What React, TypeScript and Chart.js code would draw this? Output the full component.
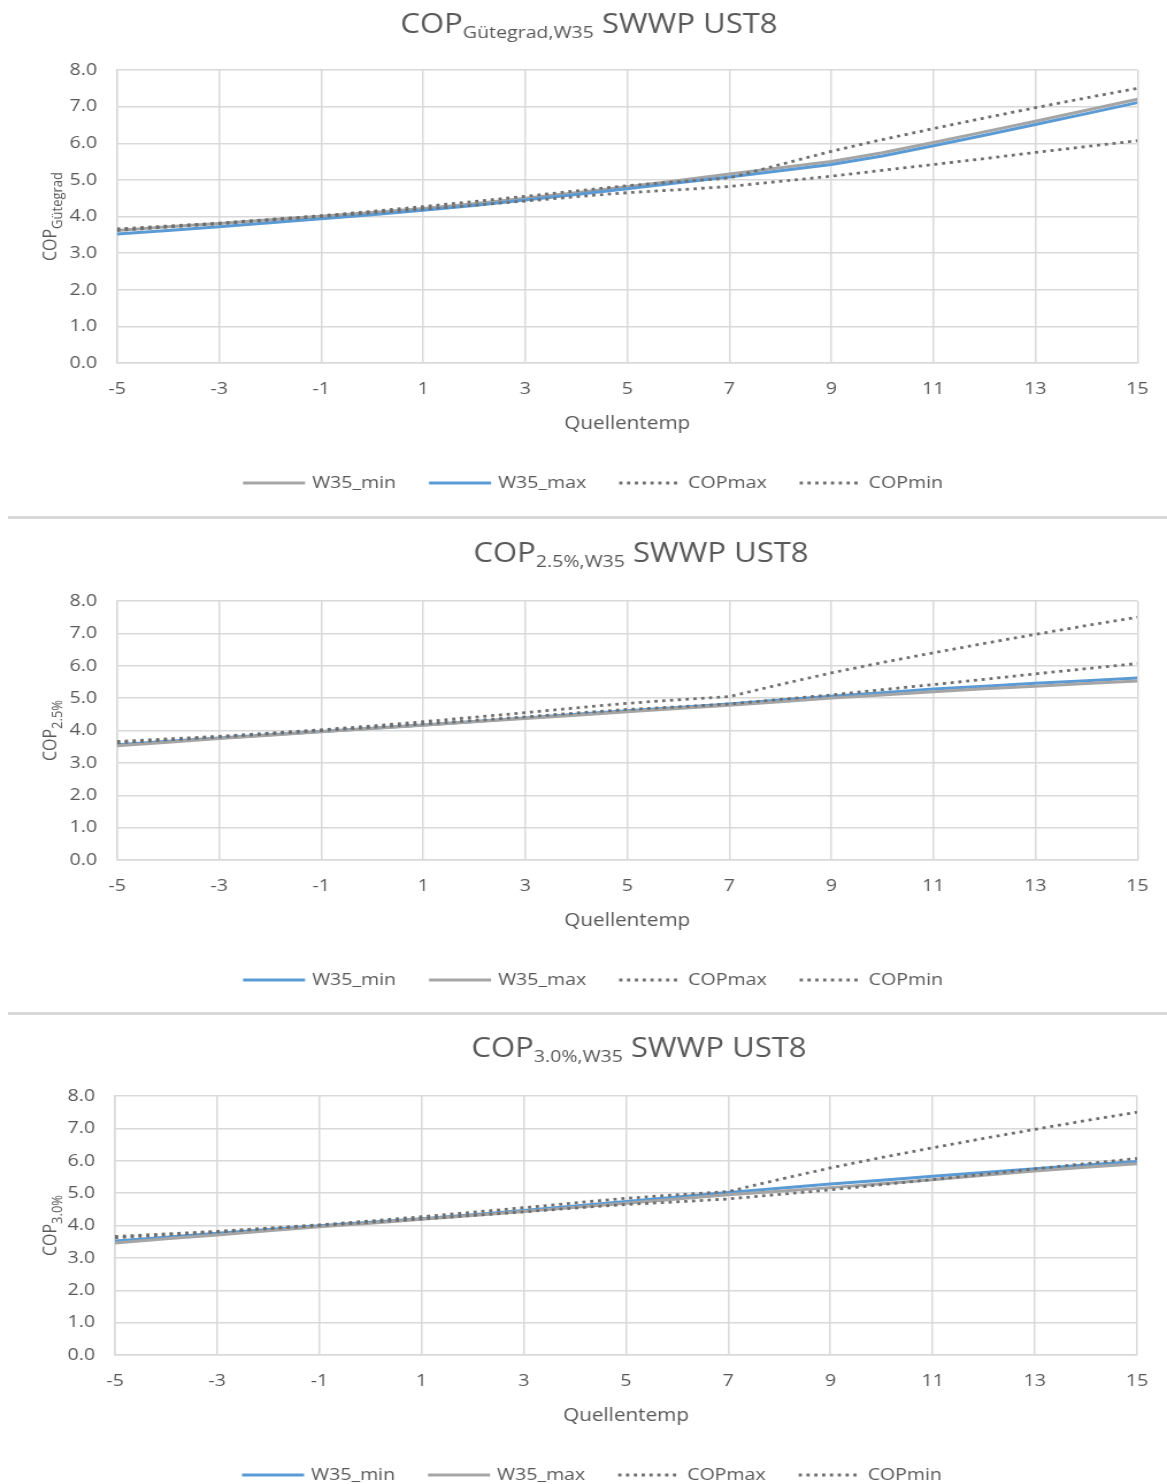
import React, { useEffect, useRef } from "react";
import { Chart, registerables } from "chart.js";

Chart.register(...registerables);

// ---------- data ----------
const quellentemp = [-5, -4, -3, -2, -1, 0, 1, 2, 3, 4, 5, 6, 7, 8, 9, 10, 11, 12, 13, 14, 15];
const xTickLabels = [-5, -3, -1, 1, 3, 5, 7, 9, 11, 13, 15];
const yTickValues = [0, 1, 2, 3, 4, 5, 6, 7, 8];

const copMax = [3.66, 3.74, 3.82, 3.92, 4.02, 4.14, 4.27, 4.41, 4.55, 4.70, 4.84, 4.95, 5.05, 5.42, 5.78, 6.10, 6.40, 6.69, 6.97, 7.24, 7.50];
const copMin = [3.62, 3.71, 3.80, 3.90, 4.00, 4.10, 4.20, 4.31, 4.42, 4.54, 4.65, 4.73, 4.82, 4.96, 5.10, 5.26, 5.42, 5.58, 5.75, 5.91, 6.07];

const guete_W35_min = [3.62, 3.72, 3.81, 3.91, 4.01, 4.11, 4.22, 4.35, 4.50, 4.65, 4.81, 4.98, 5.16, 5.33, 5.50, 5.74, 6.02, 6.31, 6.60, 6.90, 7.20];
const guete_W35_max = [3.52, 3.62, 3.72, 3.83, 3.94, 4.05, 4.17, 4.30, 4.45, 4.60, 4.76, 4.92, 5.08, 5.25, 5.42, 5.65, 5.93, 6.22, 6.51, 6.81, 7.11];

const p25_W35_min = [3.56, 3.67, 3.77, 3.87, 3.97, 4.07, 4.17, 4.28, 4.39, 4.50, 4.61, 4.71, 4.82, 4.94, 5.06, 5.17, 5.28, 5.37, 5.46, 5.54, 5.62];
const p25_W35_max = [3.53, 3.64, 3.75, 3.85, 3.96, 4.06, 4.16, 4.27, 4.37, 4.47, 4.58, 4.68, 4.78, 4.89, 5.00, 5.10, 5.20, 5.29, 5.37, 5.45, 5.53];

const p30_W35_min = [3.52, 3.64, 3.76, 3.88, 3.99, 4.10, 4.21, 4.33, 4.46, 4.60, 4.74, 4.88, 5.02, 5.15, 5.28, 5.40, 5.52, 5.64, 5.75, 5.87, 5.98];
const p30_W35_max = [3.46, 3.59, 3.71, 3.84, 3.96, 4.07, 4.19, 4.31, 4.43, 4.56, 4.69, 4.82, 4.95, 5.06, 5.17, 5.29, 5.41, 5.55, 5.68, 5.80, 5.91];

const seriesNames = ["W35_min", "W35_max", "COPmax", "COPmin"];
const titleMain = "COP";
const titleRest = " SWWP UST8";
const titleSubs = ["Gütegrad,W35", "2.5%,W35", "3.0%,W35"];
const yTitleSubs = ["Gütegrad", "2.5%", "3.0%"];
const xTitle = "Quellentemp";

// ---------- styling ----------
const PAGE_W = 1167;
const PAGE_H = 1484;
const CW = 1015; // canvas drawing width, stretched to PAGE_W
const S = PAGE_W / CW;
const FAM = '"Open Sans", "DejaVu Sans", sans-serif';
const TXT = "#595959";
const GRID = "#d9d9d9";
const GRAY = "#a5a5a5";
const BLUE = "#5b9bd5";
const DOT = "#6e6e6e";
const XH = 71.8; // x-axis box height

type Spec = {
  top: number;
  height: number;
  plotLeft: number;
  plotRight: number;
  plotTop: number;
  plotBottom: number;
  titleCx: number;
  titleBaseline: number;
  titleSub: string;
  yTitleSub: string;
  legendCx: number;
  w35min: number[];
  w35max: number[];
  minColor: string;
  maxColor: string;
};

const specs: Spec[] = [
  {
    top: 0, height: 516, plotLeft: 117, plotRight: 1139, plotTop: 70, plotBottom: 363,
    titleCx: 589, titleBaseline: 33, titleSub: titleSubs[0], yTitleSub: yTitleSubs[0], legendCx: 593,
    w35min: guete_W35_min, w35max: guete_W35_max, minColor: GRAY, maxColor: BLUE,
  },
  {
    top: 520, height: 492, plotLeft: 117, plotRight: 1139, plotTop: 81, plotBottom: 340,
    titleCx: 641, titleBaseline: 42, titleSub: titleSubs[1], yTitleSub: yTitleSubs[1], legendCx: 593,
    w35min: p25_W35_min, w35max: p25_W35_max, minColor: BLUE, maxColor: GRAY,
  },
  {
    top: 1016, height: 468, plotLeft: 115, plotRight: 1137, plotTop: 80, plotBottom: 339,
    titleCx: 639, titleBaseline: 41, titleSub: titleSubs[2], yTitleSub: yTitleSubs[2], legendCx: 592,
    w35min: p30_W35_min, w35max: p30_W35_max, minColor: BLUE, maxColor: GRAY,
  },
];

const pts = (arr: number[]) => quellentemp.map((x, i) => ({ x, y: arr[i] }));

function decorPlugin(spec: Spec) {
  return {
    id: "decor",
    afterDraw(chart: any) {
      const ctx: CanvasRenderingContext2D = chart.ctx;
      ctx.save();
      ctx.fillStyle = TXT;
      ctx.textAlign = "left";
      ctx.textBaseline = "alphabetic";

      // Title with subscript
      const fMain = `27px ${FAM}`;
      const fSub = `17px ${FAM}`;
      ctx.font = fMain;
      const w1 = ctx.measureText(titleMain).width;
      const w3 = ctx.measureText(titleRest).width;
      ctx.font = fSub;
      const w2 = ctx.measureText(spec.titleSub).width;
      let x = spec.titleCx / S - (w1 + w2 + w3) / 2;
      ctx.font = fMain;
      ctx.fillText(titleMain, x, spec.titleBaseline);
      x += w1;
      ctx.font = fSub;
      ctx.fillText(spec.titleSub, x, spec.titleBaseline + 5);
      x += w2;
      ctx.font = fMain;
      ctx.fillText(titleRest, x, spec.titleBaseline);

      // Rotated y-axis title with subscript
      const ca = chart.chartArea;
      const cy = (ca.top + ca.bottom) / 2;
      ctx.save();
      ctx.translate(56 / S, cy);
      ctx.rotate(-Math.PI / 2);
      const yMain = `16px ${FAM}`;
      const ySub = `13px ${FAM}`;
      ctx.font = yMain;
      const a = ctx.measureText(titleMain).width;
      ctx.font = ySub;
      const b = ctx.measureText(spec.yTitleSub).width;
      let tx = -(a + b) / 2;
      ctx.font = yMain;
      ctx.fillText(titleMain, tx, 0);
      tx += a;
      ctx.font = ySub;
      ctx.fillText(spec.yTitleSub, tx, 6 / S);
      ctx.restore();

      // Legend
      const ly = spec.plotBottom + 120;
      const sampleLen = 62 / S;
      const gapText = 7 / S;
      const itemGap = 33 / S;
      const fLeg = `17px ${FAM}`;
      ctx.font = fLeg;
      const ds = chart.data.datasets;
      const widths = ds.map((d: any) => sampleLen + gapText + ctx.measureText(d.label).width);
      const total = widths.reduce((p: number, c: number) => p + c, 0) + itemGap * (ds.length - 1);
      let lx = spec.legendCx / S - total / 2;
      ds.forEach((d: any, i: number) => {
        ctx.save();
        ctx.strokeStyle = d.borderColor;
        ctx.lineWidth = d.borderWidth;
        ctx.setLineDash(d.borderDash || []);
        ctx.beginPath();
        ctx.moveTo(lx, ly);
        ctx.lineTo(lx + sampleLen, ly);
        ctx.stroke();
        ctx.restore();
        ctx.fillStyle = TXT;
        ctx.textBaseline = "middle";
        ctx.font = fLeg;
        ctx.fillText(d.label, lx + sampleLen + gapText, ly);
        lx += widths[i] + itemGap;
      });
      ctx.restore();
    },
  };
}

function CopChart({ spec }: { spec: Spec }) {
  const ref = useRef<HTMLCanvasElement>(null);
  useEffect(() => {
    const canvas = ref.current;
    if (!canvas) return;
    const tickFont = { family: FAM, size: 17 };
    const chart = new Chart(canvas, {
      type: "line",
      data: {
        datasets: [
          { label: seriesNames[0], data: pts(spec.w35min), borderColor: spec.minColor, borderWidth: 3, pointRadius: 0, tension: 0, order: 3 },
          { label: seriesNames[1], data: pts(spec.w35max), borderColor: spec.maxColor, borderWidth: 3, pointRadius: 0, tension: 0, order: 2 },
          { label: seriesNames[2], data: pts(copMax), borderColor: DOT, borderWidth: 2.8, borderDash: [2.8, 4], pointRadius: 0, tension: 0, order: 1 },
          { label: seriesNames[3], data: pts(copMin), borderColor: DOT, borderWidth: 2.8, borderDash: [2.8, 4], pointRadius: 0, tension: 0, order: 0 },
        ],
      },
      options: {
        responsive: false,
        maintainAspectRatio: false,
        animation: false,
        devicePixelRatio: 1,
        events: [],
        layout: {
          padding: {
            top: spec.plotTop,
            left: 0,
            right: CW - spec.plotRight / S,
            bottom: spec.height - spec.plotBottom - XH,
          },
        },
        plugins: {
          legend: { display: false },
          title: { display: false },
          tooltip: { enabled: false },
        },
        scales: {
          x: {
            type: "linear",
            min: -5,
            max: 15,
            afterBuildTicks: (s: any) => {
              s.ticks = xTickLabels.map((v) => ({ value: v }));
            },
            afterFit: (s: any) => {
              s.height = XH;
            },
            grid: { color: GRID, lineWidth: 1.5, drawTicks: false },
            border: { color: GRID, width: 1.5 },
            ticks: {
              padding: 16,
              color: TXT,
              font: tickFont,
              autoSkip: false,
              maxRotation: 0,
              callback: (v: any) => String(v),
            },
            title: { display: true, text: xTitle, color: TXT, font: { family: FAM, size: 18 }, padding: 0 },
          },
          y: {
            type: "linear",
            min: 0,
            max: 8,
            afterBuildTicks: (s: any) => {
              s.ticks = yTickValues.map((v) => ({ value: v }));
            },
            afterFit: (s: any) => {
              s.width = spec.plotLeft / S;
            },
            grid: { color: GRID, lineWidth: 1.5, drawTicks: false },
            border: { color: GRID, width: 1.5 },
            ticks: {
              padding: 20 / S,
              color: TXT,
              font: tickFont,
              callback: (v: any) => Number(v).toFixed(1),
            },
          },
        },
      } as any,
      plugins: [decorPlugin(spec)],
    });
    return () => chart.destroy();
  }, [spec]);
  return (
    <canvas
      ref={ref}
      width={CW}
      height={spec.height}
      style={{
        position: "absolute",
        left: 0,
        top: spec.top,
        width: PAGE_W + "px",
        height: spec.height + "px",
        display: "block",
      }}
    />
  );
}

export default function App() {
  return (
    <div
      style={{
        position: "absolute",
        left: 0,
        top: 0,
        width: PAGE_W,
        height: PAGE_H,
        background: "#ffffff",
        overflow: "hidden",
      }}
    >
      {specs.map((s, i) => (
        <CopChart key={i} spec={s} />
      ))}
      <div style={{ position: "absolute", left: 8, top: 516, width: PAGE_W - 8, height: 3, background: GRID }} />
      <div style={{ position: "absolute", left: 8, top: 1012, width: PAGE_W - 8, height: 3, background: GRID }} />
    </div>
  );
}
